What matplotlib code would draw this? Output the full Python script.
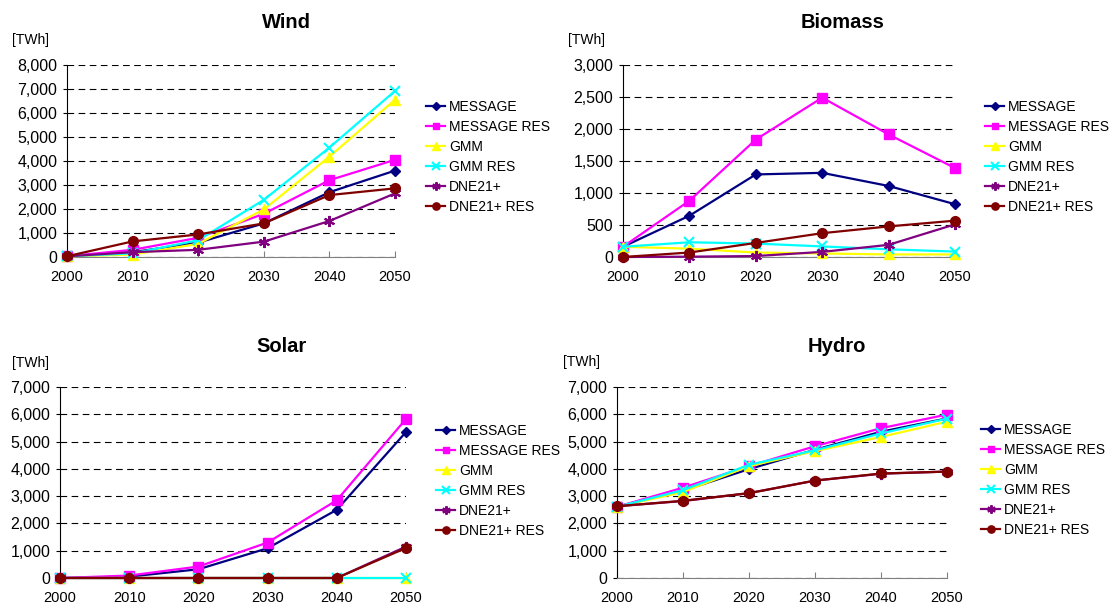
import matplotlib
matplotlib.use("Agg")
import matplotlib.pyplot as plt
from matplotlib.ticker import FuncFormatter, MultipleLocator

plt.rcParams['font.family'] = ['Liberation Sans', 'DejaVu Sans']

# Роки та назви сценаріїв
years = [2000, 2010, 2020, 2030, 2040, 2050]
models = ['MESSAGE', 'MESSAGE RES', 'GMM', 'GMM RES', 'DNE21+', 'DNE21+ RES']

# Wind [TWh]
wind_message = [30, 200, 600, 1400, 2700, 3600]
wind_message_res = [30, 300, 800, 1800, 3200, 4050]
wind_gmm = [30, 100, 550, 1980, 4180, 6550]
wind_gmm_res = [30, 150, 700, 2380, 4560, 6920]
wind_dne = [30, 200, 300, 640, 1500, 2650]
wind_dne_res = [30, 650, 940, 1400, 2580, 2860]

# Biomass [TWh]
bio_message = [160, 645, 1290, 1315, 1110, 825]
bio_message_res = [160, 880, 1835, 2490, 1915, 1390]
bio_gmm = [160, 130, 70, 55, 40, 40]
bio_gmm_res = [160, 230, 210, 165, 120, 85]
bio_dne = [0, 5, 15, 80, 190, 510]
bio_dne_res = [0, 70, 220, 372, 478, 568]

# Solar [TWh]
solar_message = [0, 50, 320, 1090, 2500, 5350]
solar_message_res = [0, 90, 420, 1300, 2850, 5830]
solar_gmm = [0, 0, 0, 0, 0, 0]
solar_gmm_res = [0, 0, 0, 0, 0, 0]
solar_dne = [0, 0, 0, 0, 0, 1150]
solar_dne_res = [0, 0, 0, 0, 0, 1100]

# Hydro [TWh]
hydro_message = [2610, 3200, 3990, 4700, 5360, 5850]
hydro_message_res = [2610, 3310, 4100, 4830, 5490, 5990]
hydro_gmm = [2610, 3150, 4100, 4650, 5170, 5730]
hydro_gmm_res = [2610, 3220, 4150, 4680, 5300, 5840]
hydro_dne = [2630, 2820, 3110, 3570, 3820, 3900]
hydro_dne_res = [2630, 2830, 3110, 3570, 3830, 3900]

colors = ['#000080', '#FF00FF', '#FFFF00', '#00FFFF', '#800080', '#800000']
markers = ['D', 's', '^', 'x', (6, 2, 0), 'o']
msizes = [5, 6.5, 7, 7, 8, 7]

fig = plt.figure(figsize=(11.13, 6.05), dpi=100)
W, H = 1113, 605


def px_axes(left, right, top, bottom):
    return fig.add_axes([left / W, 1 - bottom / H, (right - left) / W, (bottom - top) / H])


def draw_panel(ax, series, ymax, ystep, title, title_xy, unit_xy, legend_xy):
    for vals, c, m, ms, name in zip(series, colors, markers, msizes, models):
        ax.plot(years, vals, color=c, lw=1.6, marker=m, markersize=ms,
                markeredgewidth=1.5 if m in ('x', (6, 2, 0)) else 1.0,
                label=name, clip_on=False, zorder=3)
    ax.set_xlim(2000, 2050)
    ax.set_ylim(0, ymax)
    ax.set_xticks(years)
    ax.yaxis.set_major_locator(MultipleLocator(ystep))
    ax.yaxis.set_major_formatter(FuncFormatter(lambda v, p: f"{v:,.0f}"))
    ax.grid(axis='y', color='black', linestyle=(0, (6, 4)), linewidth=0.8)
    ax.set_axisbelow(True)
    for s in ('top', 'right'):
        ax.spines[s].set_visible(False)
    ax.spines['left'].set_color('black')
    ax.spines['bottom'].set_color('#808080')
    ax.tick_params(axis='x', direction='in', length=4, color='#808080',
                   labelsize=10.5, pad=9)
    ax.tick_params(axis='y', direction='out', length=3, labelsize=11.5, pad=4)
    fig.text(title_xy[0] / W, 1 - title_xy[1] / H, title, fontsize=14.5,
             fontweight='bold', ha='center', va='center')
    fig.text(unit_xy[0] / W, 1 - unit_xy[1] / H, '[TWh]', fontsize=10,
             ha='left', va='center')
    ax.legend(loc='center left', bbox_to_anchor=(legend_xy[0] / W, 1 - legend_xy[1] / H),
              bbox_transform=fig.transFigure, frameon=False, fontsize=10,
              handlelength=1.4, handletextpad=0.25, labelspacing=0.43,
              borderpad=0, borderaxespad=0, markerscale=0.75)


ax1 = px_axes(67, 395, 65, 257)
draw_panel(ax1, [wind_message, wind_message_res, wind_gmm, wind_gmm_res, wind_dne, wind_dne_res],
           8000, 1000, 'Wind', (286, 23), (12, 40), (426, 157))

ax2 = px_axes(623, 955, 65, 257)
draw_panel(ax2, [bio_message, bio_message_res, bio_gmm, bio_gmm_res, bio_dne, bio_dne_res],
           3000, 500, 'Biomass', (843, 23), (568, 40), (985, 157))

ax3 = px_axes(60, 406, 387, 578)
draw_panel(ax3, [solar_message, solar_message_res, solar_gmm, solar_gmm_res, solar_dne, solar_dne_res],
           7000, 1000, 'Solar', (282, 347), (12, 363), (436, 481))

ax4 = px_axes(617, 947, 387, 578)
draw_panel(ax4, [hydro_message, hydro_message_res, hydro_gmm, hydro_gmm_res, hydro_dne, hydro_dne_res],
           7000, 1000, 'Hydro', (837, 346), (563, 362), (981, 480))

plt.savefig('out.png', dpi=100)
